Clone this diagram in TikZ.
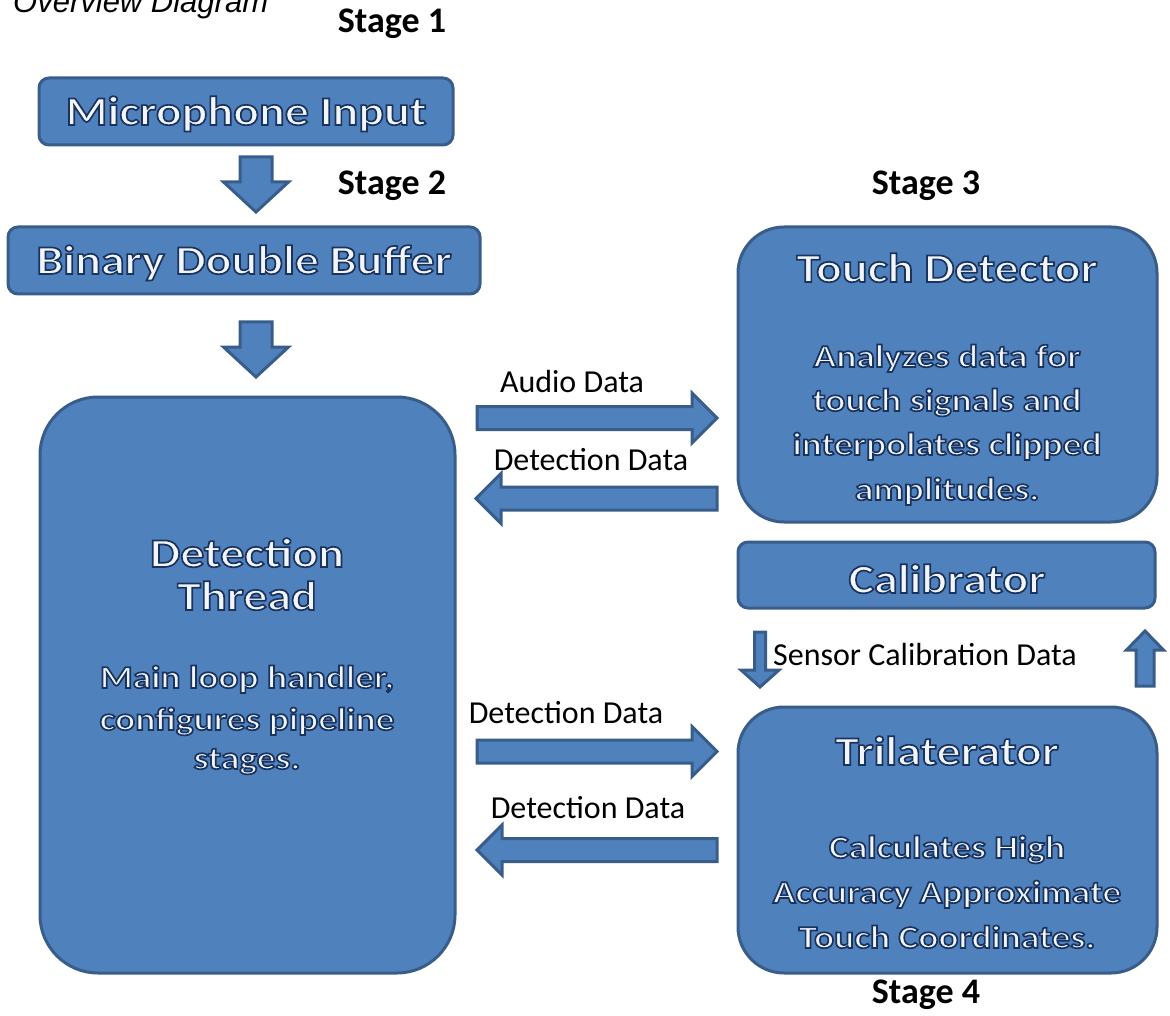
\documentclass[tikz,border=0pt]{standalone}
\usepackage{fontspec}
\setmainfont{Carlito}
\newfontfamily\boxfont[FakeStretch=1.17]{Carlito Bold}
\newfontfamily\capfont{Liberation Sans}
\usetikzlibrary{calc}
\definecolor{boxfill}{HTML}{4F81BD}
\definecolor{boxline}{HTML}{385D8A}
\definecolor{glyphfill}{HTML}{F2F6FB}
% white letters with a dark blue outline (fill and stroke text rendering)
\newcommand\glow[1]{{\color{glyphfill}%
  \special{pdf:literal direct 2 Tr 1.7 w 0.10 0.20 0.37 RG}#1%
  \special{pdf:literal direct 0 Tr}}}
% block arrow: from, to, shaft half width, head half width, head length
\newcommand\blockarrow[5]{%
  \draw[fatarrow] let \p1=(#1), \p2=(#2), \n1={atan2(\y2-\y1,\x2-\x1)},
        \p3=($(#2)!#5!(#1)$) in
    ($(\p1)+(\n1+90:#3)$) -- ($(\p3)+(\n1+90:#3)$) -- ($(\p3)+(\n1+90:#4)$)
    -- (\p2) -- ($(\p3)+(\n1-90:#4)$) -- ($(\p3)+(\n1-90:#3)$)
    -- ($(\p1)+(\n1-90:#3)$) -- cycle;}
\begin{document}
\begin{tikzpicture}[x=1pt,y=-1pt,
  panel/.style={draw=boxline, line width=3pt, fill=boxfill, inner sep=0pt},
  fatarrow/.style={draw=boxline, line width=3pt, fill=boxfill, line join=miter},
  title/.style={font=\boxfont\fontsize{41}{50}\selectfont, anchor=base, inner sep=0pt},
  body/.style={font=\boxfont\fontsize{32}{44}\selectfont, anchor=base, inner sep=0pt},
  stagelbl/.style={font=\bfseries\fontsize{36}{42}\selectfont, anchor=base, inner sep=0pt},
  flowlbl/.style={font=\fontsize{32}{38}\selectfont, anchor=base, inner sep=0pt}]
\useasboundingbox (0,0) rectangle (1170,1016);
\clip (0,0) rectangle (1170,1016);

% caption (runs off the top edge)
\node[font=\capfont\itshape\fontsize{31}{37}\selectfont, anchor=base west, inner sep=0pt] (cap) at (13,13) {Overview Diagram};

% stage labels
\node[stagelbl] (s1) at (392,33) {Stage 1};
\node[stagelbl] (s2) at (392,195) {Stage 2};
\node[stagelbl] (s3) at (926,195) {Stage 3};
\node[stagelbl] (s4) at (926,1003) {Stage 4};

% panels
\node[panel, rounded corners=10pt, minimum width=414pt, minimum height=67pt] (mic) at (246,111.5) {};
\node[panel, rounded corners=10pt, minimum width=472pt, minimum height=67pt] (buf) at (244,260.5) {};
\node[panel, rounded corners=58pt, minimum width=415pt, minimum height=576pt] (thr) at (247.5,685) {};
\node[panel, rounded corners=46pt, minimum width=419pt, minimum height=295pt] (tdet) at (947.5,374.5) {};
\node[panel, rounded corners=10pt, minimum width=417pt, minimum height=66pt] (cal) at (946.5,575) {};
\node[panel, rounded corners=46pt, minimum width=419pt, minimum height=266pt] (tri) at (947.5,840) {};

% panel texts
\node[title] (micT) at (246,125) {\glow{Microphone Input}};
\node[title] (bufT) at (244,274) {\glow{Binary Double Buffer}};

\node[title] (thrT1) at (247,567) {\glow{Detection}};
\node[title] (thrT2) at (247,610) {\glow{Thread}};
\node[body] (thrB1) at (247,688) {\glow{Main loop handler,}};
\node[body] (thrB2) at (247,730) {\glow{configures pipeline}};
\node[body] (thrB3) at (247,769) {\glow{stages.}};

\node[title] (tdetT) at (947,282) {\glow{Touch Detector}};
\node[body] (tdetB1) at (947,367) {\glow{Analyzes data for}};
\node[body] (tdetB2) at (947,411) {\glow{touch signals and}};
\node[body] (tdetB3) at (947,455) {\glow{interpolates clipped}};
\node[body] (tdetB4) at (947,500) {\glow{amplitudes.}};

\node[title] (calT) at (947,593) {\glow{Calibrator}};

\node[title] (triT) at (947,765) {\glow{Trilaterator}};
\node[body] (triB1) at (947,858) {\glow{Calculates High}};
\node[body] (triB2) at (947,903) {\glow{Accuracy Approximate}};
\node[body] (triB3) at (947,948) {\glow{Touch Coordinates.}};

% arrow end points
\coordinate (a1s) at (256,157);   \coordinate (a1e) at (256,212);
\coordinate (a2s) at (256,322);   \coordinate (a2e) at (256,377);
\coordinate (a3s) at (477,418);   \coordinate (a3e) at (717,418);
\coordinate (a4s) at (717,498.5); \coordinate (a4e) at (476,498.5);
\coordinate (a5s) at (477,751.5); \coordinate (a5e) at (717,751.5);
\coordinate (a6s) at (717,850);   \coordinate (a6e) at (477,850);
\coordinate (a7s) at (760,632);   \coordinate (a7e) at (760,687);
\coordinate (a8s) at (1145,686);  \coordinate (a8e) at (1145,631);

\blockarrow{a1s}{a1e}{16pt}{32.5pt}{30pt}
\blockarrow{a2s}{a2e}{16pt}{32.5pt}{30pt}
\blockarrow{a3s}{a3e}{11.5pt}{25pt}{25pt}
\blockarrow{a4s}{a4e}{11.5pt}{25pt}{25pt}
\blockarrow{a5s}{a5e}{11.5pt}{25pt}{25pt}
\blockarrow{a6s}{a6e}{11.5pt}{25pt}{25pt}
\blockarrow{a7s}{a7e}{5.5pt}{19pt}{17pt}
\blockarrow{a8s}{a8e}{9pt}{18.5pt}{19pt}

% flow labels
\node[flowlbl] (l3) at (572,392) {Audio Data};
\node[flowlbl] (l4) at (591,470) {Detection Data};
\node[flowlbl] (l5) at (566,723) {Detection Data};
\node[flowlbl] (l6) at (588,818) {Detection Data};
\node[flowlbl] (l7) at (925,665) {Sensor Calibration Data};
\end{tikzpicture}
\end{document}
